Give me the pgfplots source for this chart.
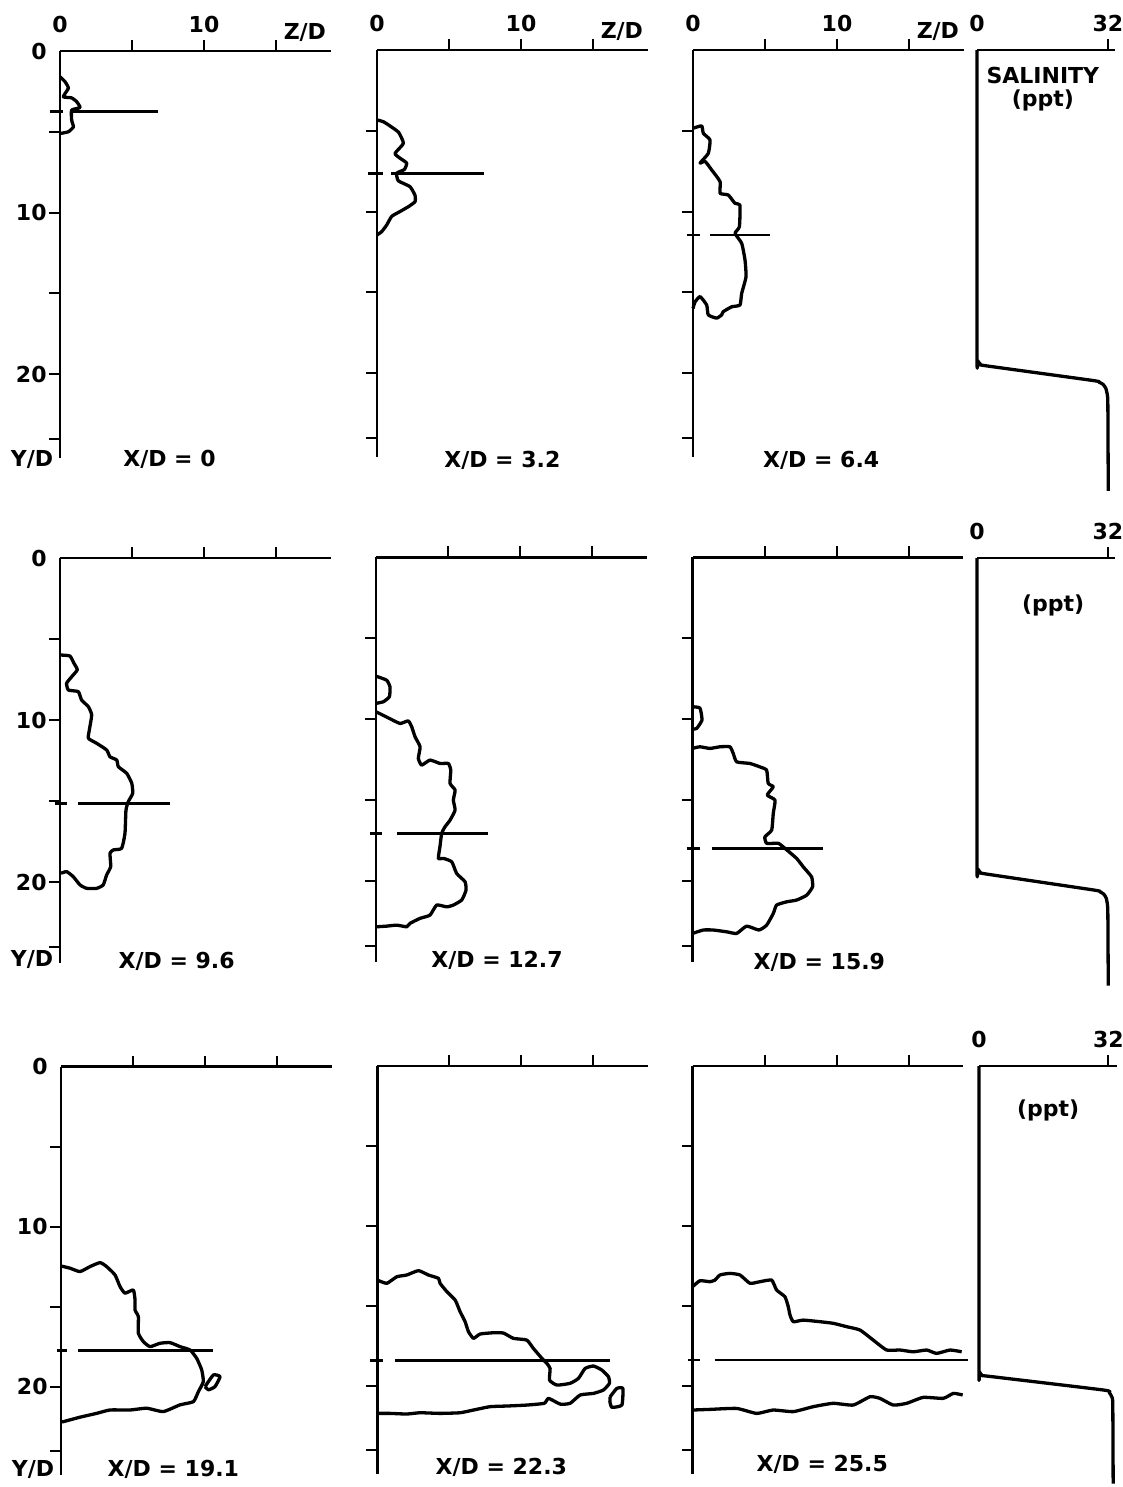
\documentclass[border=0pt]{standalone}
\usepackage{fontspec}
\setmainfont{DejaVu Sans}
\usepackage{pgfplots}
\pgfplotsset{compat=1.18}
\newcommand\lbl{\fontsize{11bp}{13bp}\selectfont\bfseries}
\pgfplotsset{
  prof/.style={
    scale only axis, width=135.4bp,
    xmin=0, xmax=18.8, ymin=0, y dir=reverse,
    axis x line*=top, axis y line*=left,
    xtick={5,10,15}, ytick={5,10,15,20,24},
    xticklabels={}, yticklabels={},
    tick align=outside, major tick length=5.5bp,
    tick style={line width=1bp, black},
    axis line style={line width=1.15bp, black},
    clip=false,
    tick label style={font=\lbl},
    yticklabel style={inner xsep=1bp},
    /pgf/number format/assume math mode=true,
  },
  row1/.style={ymax=25.2, height=203.5bp},
  row2/.style={ymax=25.0, height=202.5bp},
  row3/.style={ymax=25.5, height=204bp},
  ylab/.style={yticklabels={,10,,20,}, extra y ticks={0}, extra y tick labels={0}, extra y tick style={tick style={draw=none}}},
  xlab/.style={xticklabels={,10,}, extra x ticks={0}, extra x tick labels={0}, extra x tick style={tick style={draw=none}}},
  sal/.style={
    scale only axis, width=68.9bp, xmin=0, xmax=33.7, ymin=0, y dir=reverse,
    axis x line*=top, axis y line=none,
    xtick={32}, xticklabels={32}, extra x ticks={0}, extra x tick labels={0},
    extra x tick style={tick style={draw=none}}, ytick=\empty,
    tick align=outside, major tick length=5.5bp,
    tick style={line width=1bp, black},
    axis line style={line width=1.15bp, black},
    tick label style={font=\lbl}, clip=false,
    /pgf/number format/assume math mode=true,
  },
  prf/.style={line width=1.65bp, black, line join=round, no marks, smooth, tension=0.3},
  cl/.style={line width=1.3bp, black, no marks},
}
\begin{document}
\begin{tikzpicture}
\useasboundingbox (0,0) rectangle (561.5bp,-743.5bp);
% ---------------- ROW 1 ----------------
\begin{axis}[prof,row1,ylab,xlab,at={(30bp,-25.5bp)},anchor=north west]
\addplot[prf] coordinates {(0,1.6)(0.35,1.9)(0.58,2.3)(0.23,2.83)(0.8,2.9)(1.16,3.14)(1.39,3.5)(0.81,3.66)(0.81,4.28)(0.93,4.7)(0.58,5.0)(0.05,5.1)};
\addplot[cl] coordinates {(-0.7,3.76)(0.2,3.76)};
\addplot[cl] coordinates {(0.7,3.76)(6.8,3.76)};
\node[font=\lbl,anchor=south] at (axis cs:17.0,0) [yshift=1bp] {Z/D};
\node[font=\lbl] at (axis cs:7.6,25.3) {X/D = 0};
\node[font=\lbl,anchor=east,inner xsep=0pt] at (axis cs:-0.45,25.3) {Y/D};
\end{axis}
\begin{axis}[prof,row1,xlab,at={(188.5bp,-25bp)},anchor=north west]
\addplot[prf] coordinates {(0,4.33)(0.44,4.44)(0.9,4.7)(1.5,5.1)(1.83,5.78)(1.25,6.4)(1.6,6.7)(2.06,7.0)(1.9,7.4)(1.37,7.63)(1.48,8.1)(2.29,8.46)(2.64,9.0)(2.64,9.39)(2.18,9.7)(1.6,10.0)(1.02,10.3)(0.67,10.84)(0.32,11.25)(0,11.45)};
\addplot[cl] coordinates {(-0.6,7.63)(0.4,7.63)};
\addplot[cl] coordinates {(1.0,7.63)(7.43,7.63)};
\node[font=\lbl,anchor=south] at (axis cs:17.0,0) [yshift=1bp] {Z/D};
\node[font=\lbl] at (axis cs:8.7,25.4) {X/D = 3.2};
\end{axis}
\begin{axis}[prof,row1,xlab,at={(346.5bp,-25bp)},anchor=north west]
\addplot[prf] coordinates {(0,4.85)(0.6,4.7)(0.72,5.16)(1.18,5.57)(1.06,6.4)(0.49,7.0)(0.84,6.9)(1.3,7.43)(1.88,8.15)(1.88,8.87)(2.45,8.98)(2.92,9.5)(3.26,9.6)(3.22,10.94)(2.92,11.35)(3.38,11.97)(3.61,13.0)(3.68,14.04)(3.38,15.07)(3.26,15.79)(2.69,15.9)(2.1,16.2)(1.99,16.4)(1.64,16.6)(1.06,16.4)(0.95,15.79)(0.49,15.27)(0.14,15.6)(0,16.0)};
\addplot[cl] coordinates {(-0.44,11.46)(0.49,11.46)};
\addplot[cl] coordinates {(1.18,11.46)(5.35,11.46)};
\node[font=\lbl,anchor=south] at (axis cs:17.0,0) [yshift=1bp] {Z/D};
\node[font=\lbl] at (axis cs:8.9,25.4) {X/D = 6.4};
\end{axis}
\begin{axis}[sal,ymax=27.3,height=220.4bp,at={(488.5bp,-25bp)},anchor=north west]
\addplot[prf] coordinates {(0,0)(0,18.9)(0.2,19.25)(0.8,19.45)(2,19.55)(28.4,20.47)(29.8,20.57)(30.8,20.7)(31.5,20.95)(31.9,21.4)(32.0,22.0)(32.1,27.3)};
\node[font=\lbl] at (axis cs:16.1,1.55) {SALINITY};
\node[font=\lbl] at (axis cs:16.1,3.1) {(ppt)};
\end{axis}
% ---------------- ROW 2 ----------------
\begin{axis}[prof,row2,ylab,at={(30bp,-279bp)},anchor=north west]
\addplot[prf] coordinates {(0.07,5.99)(0.69,6.05)(0.97,6.5)(1.2,6.9)(0.81,7.33)(0.46,7.73)(0.58,8.15)(1.27,8.25)(1.5,8.77)(1.97,9.18)(2.2,9.69)(2.04,10.6)(1.97,11.13)(2.55,11.44)(3.24,11.85)(3.47,12.27)(3.94,12.47)(4.05,12.88)(4.63,13.29)(4.98,13.9)(5.05,14.52)(4.74,15.04)(4.58,15.56)(4.51,17.0)(4.28,17.92)(3.7,18.02)(3.47,18.23)(3.52,19.05)(3.24,19.56)(3.0,20.18)(2.55,20.39)(1.85,20.39)(1.39,20.18)(0.92,19.67)(0.46,19.36)(0.07,19.46)};
\addplot[cl] coordinates {(-0.35,15.14)(0.46,15.14)};
\addplot[cl] coordinates {(1.27,15.14)(7.64,15.14)};
\node[font=\lbl] at (axis cs:8.1,24.9) {X/D = 9.6};
\node[font=\lbl,anchor=east,inner xsep=0pt] at (axis cs:-0.45,24.8) {Y/D};
\end{axis}
\begin{axis}[prof,row2,at={(188bp,-278.7bp)},anchor=north west]
\addplot[prf] coordinates {(0,7.33)(0.74,7.58)(0.97,7.99)(0.93,8.6)(0.51,8.91)(0.05,9.0)};
\addplot[prf] coordinates {(0,9.53)(0.46,9.73)(0.93,9.94)(1.67,10.25)(2.24,10.09)(2.48,10.46)(2.71,11.07)(3.06,11.69)(2.94,12.41)(3.17,12.82)(3.75,12.51)(4.44,12.72)(5.02,12.72)(5.19,13.13)(5.14,13.95)(5.49,14.36)(5.37,14.98)(5.49,15.6)(5.14,16.22)(4.79,16.63)(4.56,17.04)(4.44,17.86)(4.33,18.58)(4.68,18.58)(5.26,18.79)(5.6,19.51)(6.18,20.02)(6.25,20.54)(5.95,21.15)(5.37,21.46)(4.91,21.57)(4.21,21.46)(3.75,22.08)(3.06,22.28)(2.36,22.59)(2.13,22.8)(1.44,22.7)(0.74,22.76)(0.05,22.8)};
\addplot[cl] coordinates {(-0.42,17.04)(0.4,17.04)};
\addplot[cl] coordinates {(1.44,17.04)(7.8,17.04)};
\node[font=\lbl] at (axis cs:8.4,24.9) {X/D = 12.7};
\end{axis}
\begin{axis}[prof,row2,at={(346.3bp,-278.7bp)},anchor=north west]
\addplot[prf] coordinates {(0,9.22)(0.51,9.3)(0.65,10.04)(0.28,10.56)(0,10.6)};
\addplot[prf] coordinates {(0,11.79)(0.51,11.69)(1.2,11.79)(1.9,11.69)(2.59,11.69)(2.82,12.1)(3.06,12.62)(3.98,12.72)(4.67,12.93)(5.14,13.13)(5.25,13.95)(5.6,14.16)(5.18,14.67)(5.72,14.98)(5.6,15.8)(5.49,16.83)(5.02,17.25)(5.14,17.65)(5.95,17.65)(6.41,17.96)(7.22,18.58)(7.68,19.1)(8.26,19.72)(8.33,20.33)(7.92,20.85)(7.22,21.15)(6.53,21.26)(5.83,21.46)(5.6,21.98)(5.14,22.7)(4.6,23.0)(3.75,22.76)(3.06,23.21)(2.36,23.11)(1.43,23.0)(0.74,23.0)(0,23.21)};
\addplot[cl] coordinates {(-0.42,17.96)(0.51,17.96)};
\addplot[cl] coordinates {(1.32,17.96)(9.07,17.96)};
\node[font=\lbl] at (axis cs:8.8,25.0) {X/D = 15.9};
\end{axis}
\begin{axis}[sal,ymax=26.4,height=213.8bp,at={(488.5bp,-279bp)},anchor=north west]
\addplot[prf] coordinates {(0,0)(0,18.9)(0.2,19.2)(0.8,19.4)(2,19.5)(28.6,20.5)(30.0,20.6)(31.0,20.75)(31.6,21.0)(31.9,21.4)(32.0,22.0)(32.1,26.4)};
\node[font=\lbl] at (axis cs:18.6,2.9) {(ppt)};
\end{axis}
% ---------------- ROW 3 ----------------
\begin{axis}[prof,row3,ylab,at={(30.5bp,-533.3bp)},anchor=north west]
\addplot[prf] coordinates {(0,12.46)(0.63,12.6)(1.32,12.81)(2.01,12.5)(2.71,12.25)(3.17,12.5)(3.75,13.02)(4.1,13.75)(4.44,14.16)(5.02,13.96)(5.14,14.58)(5.14,15.21)(5.37,15.63)(5.37,16.66)(5.72,17.19)(6.18,17.5)(6.88,17.29)(7.57,17.25)(8.26,17.5)(8.96,17.71)(9.42,18.23)(9.77,18.96)(9.88,19.69)(9.54,20.31)(9.19,20.94)(8.26,21.14)(7.1,21.56)(5.95,21.35)(4.79,21.46)(3.4,21.46)(2.48,21.67)(1.32,21.91)(0.16,22.19)(0,22.2)};
\addplot[prf] coordinates {(10.0,20.0)(10.58,19.27)(11.04,19.38)(10.69,20.0)(10.23,20.2)(10.0,20.0)};
\addplot[cl] coordinates {(-0.3,17.75)(0.4,17.75)};
\addplot[cl] coordinates {(1.2,17.75)(10.58,17.75)};
\node[font=\lbl] at (axis cs:7.8,25.2) {X/D = 19.1};
\node[font=\lbl,anchor=east,inner xsep=0pt] at (axis cs:-0.45,25.2) {Y/D};
\end{axis}
\begin{axis}[prof,row3,at={(188.7bp,-533bp)},anchor=north west]
\addplot[prf] coordinates {(0,13.38)(0.65,13.58)(1.35,13.17)(2.04,13.06)(2.85,12.79)(3.54,13.06)(4.24,13.27)(4.35,13.58)(4.82,14.1)(5.4,14.63)(5.74,15.35)(6.09,15.98)(6.32,16.6)(6.67,17.02)(7.13,16.75)(8.06,16.67)(8.75,16.69)(9.44,17.02)(10.37,17.13)(10.83,17.65)(11.42,18.27)(11.76,18.58)(11.99,18.9)(11.95,19.63)(12.46,19.94)(13.38,19.83)(13.96,19.52)(14.42,18.9)(15.0,18.75)(15.58,19.0)(16.04,19.42)(16.11,19.83)(15.69,20.25)(15.0,20.46)(14.08,20.56)(13.38,21.08)(12.69,21.13)(11.88,20.77)(11.58,21.08)(10.37,21.19)(8.99,21.25)(7.83,21.29)(6.67,21.5)(5.74,21.67)(4.35,21.71)(2.96,21.67)(2.04,21.75)(0.88,21.71)(0,21.71)};
\addplot[prf] coordinates {(16.16,20.67)(16.62,20.15)(17.04,20.15)(16.97,21.19)(16.28,21.33)(16.14,20.98)(16.16,20.67)};
\addplot[cl] coordinates {(-0.5,18.42)(0.42,18.42)};
\addplot[cl] coordinates {(1.23,18.42)(16.16,18.42)};
\node[font=\lbl] at (axis cs:8.6,25.1) {X/D = 22.3};
\end{axis}
\begin{axis}[prof,row3,at={(346.3bp,-533bp)},anchor=north west]
\addplot[prf] coordinates {(0,13.79)(0.51,13.42)(1.2,13.48)(1.55,13.38)(1.9,13.06)(2.59,12.96)(3.29,13.06)(3.98,13.58)(4.67,13.48)(5.49,13.38)(5.83,14.0)(6.41,14.42)(6.64,15.04)(6.76,15.56)(6.99,15.98)(7.68,15.88)(8.84,15.98)(9.76,16.08)(10.69,16.29)(11.62,16.5)(12.54,17.13)(13.47,17.75)(14.4,17.75)(15.32,17.86)(16.25,17.75)(16.94,17.96)(17.87,17.75)(18.68,17.86)};
\addplot[prf] coordinates {(0,21.5)(1.2,21.46)(3.06,21.4)(4.44,21.71)(5.6,21.5)(6.99,21.6)(8.38,21.29)(9.76,21.08)(11.15,21.19)(12.31,20.67)(13.0,20.77)(13.93,21.19)(14.86,21.08)(16.01,20.71)(17.4,20.77)(18.1,20.46)(18.75,20.56)};
\addplot[cl] coordinates {(-0.3,18.38)(0.51,18.38)};
\addplot[cl] coordinates {(1.55,18.38)(19.14,18.38)};
\node[font=\lbl] at (axis cs:9.0,24.9) {X/D = 25.5};
\end{axis}
\begin{axis}[sal,xmax=34.2,width=69.1bp,ymax=26.1,height=208.8bp,at={(489.5bp,-533bp)},anchor=north west]
\addplot[prf] coordinates {(0,0)(0,18.9)(0.1,19.1)(0.8,19.35)(2.7,19.4)(30.8,20.25)(32.2,20.4)(32.8,20.65)(33.1,21.1)(33.2,26.1)};
\node[font=\lbl] at (axis cs:17.1,2.75) {(ppt)};
\end{axis}
\end{tikzpicture}
\end{document}
